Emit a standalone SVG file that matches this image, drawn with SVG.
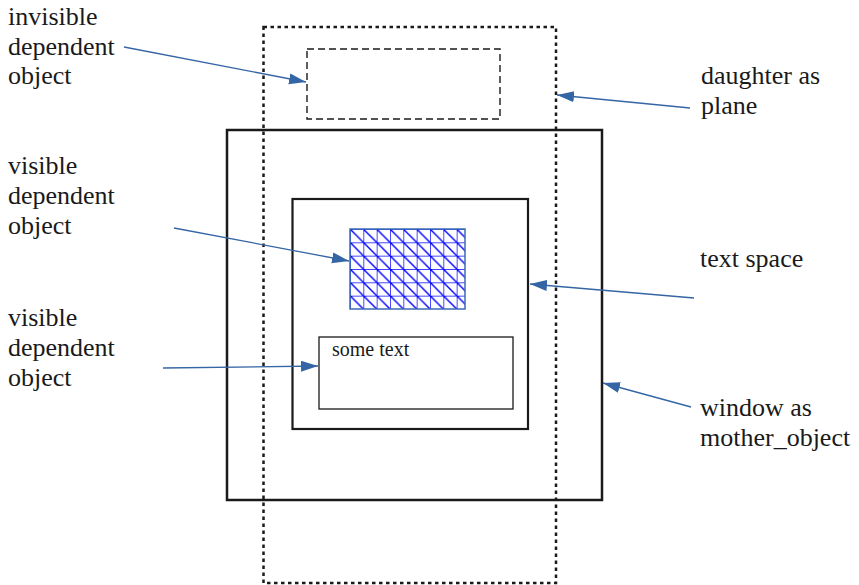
<svg xmlns="http://www.w3.org/2000/svg" width="859" height="585" viewBox="0 0 859 585">
<style>
.lbl{font-family:"Liberation Serif","Times New Roman",serif;font-size:26px;fill:#1a1a1a}
.small{font-family:"Liberation Serif","Times New Roman",serif;font-size:20px;fill:#1a1a1a}
.conn{stroke:#3465a4;stroke-width:1.3;fill:none;marker-end:url(#ah)}
</style>
<defs>
<marker id="ah" markerUnits="userSpaceOnUse" markerWidth="18" markerHeight="12" refX="17" refY="5.5" orient="auto">
<path d="M0,0 L17,5.5 L0,11 z" fill="#3465a4"/>
</marker>
<pattern id="grid" patternUnits="userSpaceOnUse" x="350" y="229" width="13.333" height="13.333">
<path d="M0,0 H13.333 M0,0 V13.333 M0,0 L13.333,13.333" stroke="#0000ff" stroke-width="1.4" fill="none"/>
</pattern>
</defs>
<rect width="859" height="585" fill="#ffffff"/>

<g id="window">
<rect x="227" y="130" width="375" height="370" fill="none" stroke="#1a1a1a" stroke-width="2.5"/>
</g>
<g id="daughter">
<rect x="263.5" y="27" width="292.5" height="556" fill="none" stroke="#1a1a1a" stroke-width="2.5" stroke-dasharray="3.5 3.5"/>
</g>
<g id="invisible_object">
<rect x="307" y="49" width="193" height="70" fill="none" stroke="#1a1a1a" stroke-width="1.4" stroke-dasharray="7 4"/>
</g>
<g id="text_space">
<rect x="292.5" y="199" width="235.5" height="230" fill="none" stroke="#1a1a1a" stroke-width="2.2"/>
</g>
<g id="grid_object">
<rect x="350" y="229" width="115" height="80" fill="url(#grid)" stroke="#3d6bb5" stroke-width="1.5"/>
</g>
<g id="text_object">
<rect x="319" y="337" width="194" height="72" fill="#ffffff" stroke="#1a1a1a" stroke-width="1.3"/>
<text class="small" x="332" y="356">some text</text>
</g>

<g id="labels">
<text class="lbl" x="8" y="25">invisible</text>
<text class="lbl" x="8" y="55">dependent</text>
<text class="lbl" x="8" y="84">object</text>
<text class="lbl" x="8" y="174">visible</text>
<text class="lbl" x="8" y="204">dependent</text>
<text class="lbl" x="8" y="234">object</text>
<text class="lbl" x="8" y="326">visible</text>
<text class="lbl" x="8" y="356">dependent</text>
<text class="lbl" x="8" y="386">object</text>
<text class="lbl" x="701" y="84">daughter as</text>
<text class="lbl" x="701" y="114">plane</text>
<text class="lbl" x="700" y="267">text space</text>
<text class="lbl" x="700" y="416">window as</text>
<text class="lbl" x="700" y="446">mother_object</text>
</g>

<g id="connectors">
<line class="conn" x1="124" y1="47" x2="306" y2="82"/>
<line class="conn" x1="690" y1="108" x2="557" y2="95"/>
<line class="conn" x1="174" y1="228" x2="349" y2="261"/>
<line class="conn" x1="694" y1="298" x2="530" y2="284"/>
<line class="conn" x1="163" y1="368" x2="318" y2="366"/>
<line class="conn" x1="691" y1="407" x2="603" y2="383"/>
</g>
</svg>
